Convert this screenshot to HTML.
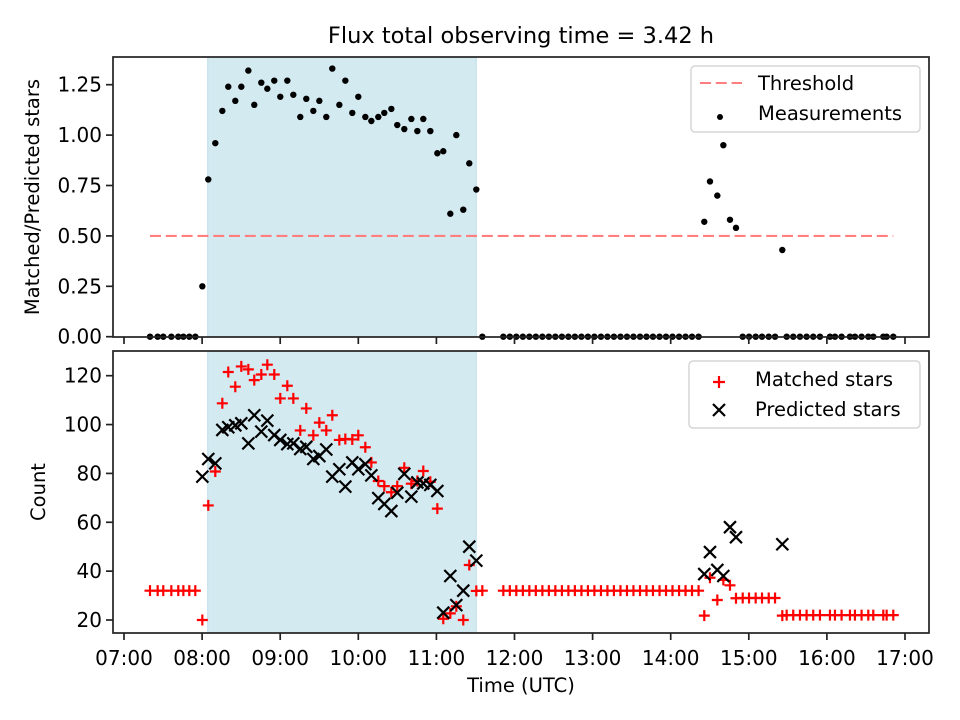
<!DOCTYPE html>
<html><head><meta charset="utf-8"><style>
body{margin:0;background:#fff}
svg{display:block;font-family:"DejaVu Sans","Liberation Sans",sans-serif}
</style></head><body>
<svg id="fig" width="960" height="720" viewBox="0 0 960 720"></svg>
<script>
const times=[7.333,7.431,7.503,7.606,7.695,7.76,7.836,7.913,
8.003,8.079,8.169,8.259,8.335,8.425,8.502,8.592,8.668,8.758,8.835,8.924,9.001,9.091,9.168,9.257,9.334,9.424,9.501,9.590,9.667,9.757,9.834,9.923,10.0,10.09,10.167,10.256,10.333,10.423,10.499,10.589,10.679,10.756,10.832,10.922,11.012,11.088,11.178,11.255,11.344,11.421,11.511,11.588,
11.857,11.94,12.023,12.107,12.19,12.273,12.357,12.44,12.523,12.607,12.69,12.773,12.857,12.94,13.023,13.107,13.19,13.273,13.357,13.44,13.523,13.607,13.69,13.773,13.857,13.94,14.023,14.107,14.19,14.273,14.357,
14.430,14.503,14.597,14.674,14.759,14.836,
14.922,15.003,15.088,15.169,15.255,15.336,
15.429,
15.485,15.569,15.655,15.740,15.825,15.911,16.039,16.103,16.188,16.295,16.359,16.444,16.530,16.594,16.722,16.765,16.850];
const ratio=[0,0,0,0,0,0,0,0,
0.25,0.78,0.96,1.12,1.24,1.17,1.24,1.32,1.15,1.26,1.23,1.27,1.19,1.27,1.20,1.09,1.18,1.12,1.17,1.09,1.33,1.15,1.27,1.11,1.19,1.09,1.07,1.09,1.11,1.13,1.05,1.03,1.08,1.02,1.08,1.02,0.91,0.92,0.61,1.00,0.63,0.86,0.73,0,
0,0,0,0,0,0,0,0,0,0,0,0,0,0,0,0,0,0,0,0,0,0,0,0,0,0,0,0,0,0,0,
0.57,0.77,0.70,0.95,0.58,0.54,
0,0,0,0,0,0,
0.43,
0,0,0,0,0,0,0,0,0,0,0,0,0,0,0,0,0];
const matched=[32,32,32,32,32,32,32,32,
20,66.9,80.8,108.7,121.5,115.5,123.8,122.6,118.2,120.5,124.5,120.5,110.7,115.9,110.7,97.6,106.6,95.6,100.8,97.6,103.8,93.7,94.1,93.9,95.6,90.7,84.5,76.9,74.8,72.3,74.8,82.3,75.8,76.9,81.0,76.6,65.6,20.5,22.7,25.6,20,42.5,31.9,32,
32,32,32,32,32,32,32,32,32,32,32,32,32,32,32,32,32,32,32,32,32,32,32,32,32,32,32,32,32,32,32,
21.8,37.3,28.2,36.4,34.2,28.9,
29,29,29,29,29,29,
21.8,
22,22,22,22,22,22,22,22,22,22,22,22,22,22,22,22,22];
const predicted=[null,null,null,null,null,null,null,null,
78.7,85.9,84.1,97.8,98.9,99.7,100.5,92.3,103.8,97.1,101.6,95.7,93.7,92.0,92.3,90.0,90.9,85.9,87.1,89.8,78.7,81.7,74.6,84.5,81.7,83.8,79.2,69.9,67.5,64.6,72.1,79.8,70.5,76.3,75.9,75.3,72.8,23,38,26.1,32,50,44.3,null,
null,null,null,null,null,null,null,null,null,null,null,null,null,null,null,null,null,null,null,null,null,null,null,null,null,null,null,null,null,null,null,
38.8,47.8,40.5,38,58,53.9,
null,null,null,null,null,null,
51,
null,null,null,null,null,null,null,null,null,null,null,null,null,null,null,null,null];
const xTicks=[7,8,9,10,11,12,13,14,15,16,17];
const xTickLabels=["07:00","08:00","09:00","10:00","11:00","12:00","13:00","14:00","15:00","16:00","17:00"];
const topTicks=[0,0.25,0.5,0.75,1.0,1.25];
const topTickLabels=["0.00","0.25","0.50","0.75","1.00","1.25"];
const botTicks=[20,40,60,80,100,120];
const threshold=[0.5];
const shade=[8.072,11.51];

const NS="http://www.w3.org/2000/svg";
const svg=document.getElementById('fig');
function mk(tag,attrs,parent){const e=document.createElementNS(NS,tag);for(const k in attrs)e.setAttribute(k,attrs[k]);(parent||svg).appendChild(e);return e;}
const L=113,R=929;
const xS=h=>124+(h-7)*78.1;
const T={top:57,bot:337}, B={top:351,bot:633};
const yT=v=>336.7-v*201.6;
const yB=v=>620-(v-20)*2.443;

// shading
for(const [ax,name] of [[T,'top'],[B,'bottom']]){
  const r=mk('rect',{x:xS(shade[0]),y:ax.top,width:xS(shade[1])-xS(shade[0]),height:ax.bot-ax.top,fill:'#d4eaf1',stroke:'#bcdde8','stroke-width':1});
  
  
}
// threshold
const th=mk('line',{x1:xS(times[0]),x2:xS(times[times.length-1]),y1:yT(threshold[0]),y2:yT(threshold[0]),stroke:'#ff7f7f','stroke-width':2.1,'stroke-dasharray':'11,4.8'});


// measurements
times.forEach((t,i)=>{
  const c=mk('circle',{cx:xS(t),cy:yT(ratio[i]),r:3.2,fill:'#000'});
  
  
});
// bottom markers
times.forEach((t,i)=>{
  const x=xS(t),y=yB(matched[i]);
  const p=mk('path',{d:`M${x-5.5},${y}H${x+5.5}M${x},${y-5.5}V${y+5.5}`,stroke:'#f00','stroke-width':2.2});
  
  
});
times.forEach((t,i)=>{
  if(predicted[i]==null)return;
  const x=xS(t),y=yB(predicted[i]),s=6;
  const p=mk('path',{d:`M${x-s},${y-s}L${x+s},${y+s}M${x-s},${y+s}L${x+s},${y-s}`,stroke:'#000','stroke-width':2.2});
  
  
});
// axes frames & ticks
function frame(ax,name){
  const r=mk('rect',{x:L,y:ax.top,width:R-L,height:ax.bot-ax.top,fill:'none',stroke:'#222','stroke-width':1.7});
  
  
  xTicks.forEach((h,i)=>{
    const t=mk('line',{x1:xS(h),x2:xS(h),y1:ax.bot,y2:ax.bot+7,stroke:'#222','stroke-width':1.7});
    
    
  });
}
frame(T,'top');frame(B,'bottom');
xTicks.forEach((h,i)=>{
  const t=mk('text',{x:xS(h),y:665,'text-anchor':'middle','font-size':20});
  t.textContent=xTickLabels[i];
  
  
});
topTicks.forEach((v,i)=>{
  mk('line',{x1:L-7,x2:L,y1:yT(v),y2:yT(v),stroke:'#222','stroke-width':1.7});
  const t=mk('text',{x:L-11,y:yT(v)+7,'text-anchor':'end','font-size':20});
  t.textContent=topTickLabels[i];
  
  
});
botTicks.forEach(v=>{
  mk('line',{x1:L-7,x2:L,y1:yB(v),y2:yB(v),stroke:'#222','stroke-width':1.7});
  const t=mk('text',{x:L-11,y:yB(v)+7,'text-anchor':'end','font-size':20});
  t.textContent=String(v);
  
  
});
</script>
<svg width="960" height="720" style="position:absolute;left:0;top:0">
<g font-family="DejaVu Sans, Liberation Sans, sans-serif" fill="#000">
<text x="521" y="43" text-anchor="middle" font-size="22.5">Flux total observing time = 3.42 h</text>
<text x="521" y="692" text-anchor="middle" font-size="19.5">Time (UTC)</text>
<text transform="translate(39,197) rotate(-90)" text-anchor="middle" font-size="19.5">Matched/Predicted stars</text>
<text transform="translate(45,492) rotate(-90)" text-anchor="middle" font-size="19.5">Count</text>
<g>
<rect x="691" y="66" width="229" height="66" rx="4" fill="#fff" fill-opacity="0.8" stroke="#d6d6d6" stroke-width="1.5"/>
<line x1="700" x2="742" y1="83" y2="83" stroke="#ff7f7f" stroke-width="2.1" stroke-dasharray="11,4.8"/>
<text x="758" y="90" font-size="19.5">Threshold</text>
<circle cx="720" cy="117" r="3" fill="#000"/>
<text x="758" y="120" font-size="19.5">Measurements</text>
</g>
<g>
<rect x="689" y="361" width="231" height="67" rx="4" fill="#fff" fill-opacity="0.8" stroke="#d6d6d6" stroke-width="1.5"/>
<path d="M713,382H725M719,376V388" stroke="#f00" stroke-width="2.2"/>
<text x="755" y="386" font-size="19.5">Matched stars</text>
<path d="M713,404L725,416M713,416L725,404" stroke="#000" stroke-width="2.2"/>
<text x="755" y="416" font-size="19.5">Predicted stars</text>
</g>
</g>
</svg>
</body></html>
